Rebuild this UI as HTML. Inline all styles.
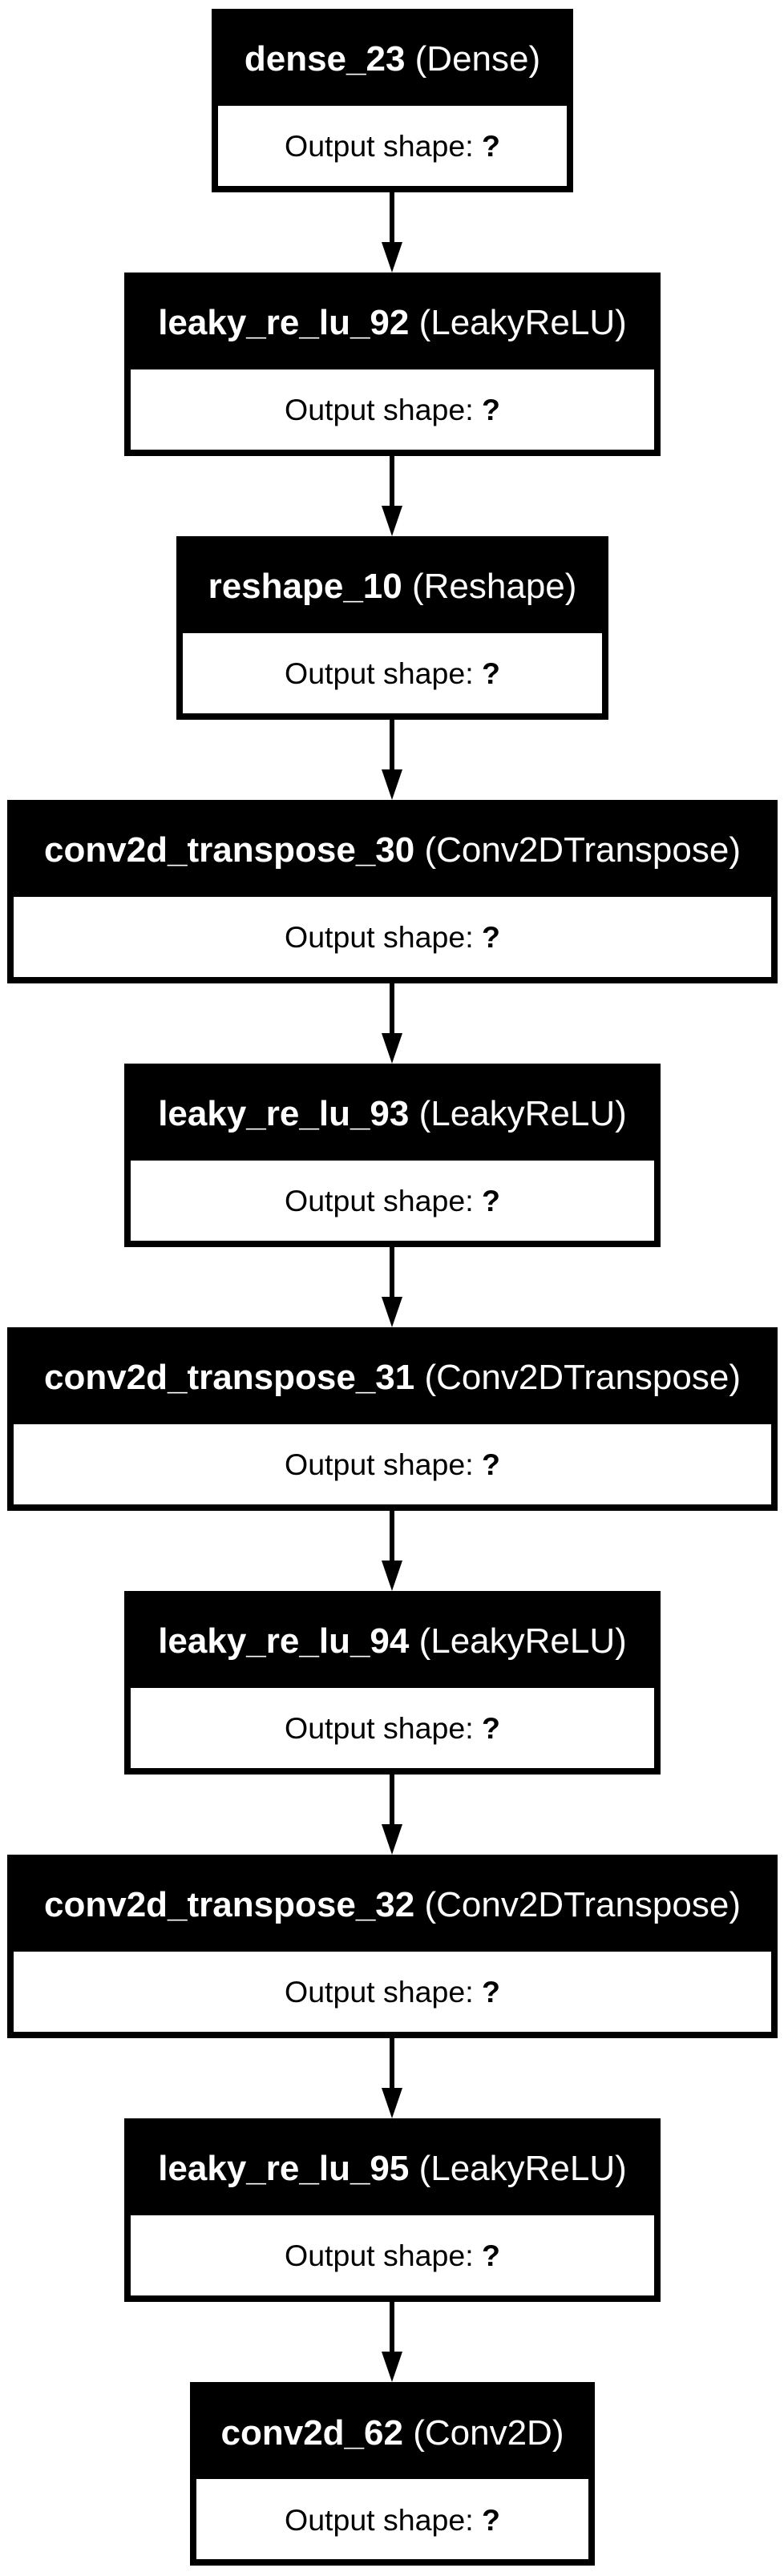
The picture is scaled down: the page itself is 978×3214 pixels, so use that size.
<!DOCTYPE html>
<html><head><meta charset="utf-8"><style>
html,body{margin:0;padding:0;background:#fff;}
svg{display:block;}
text{font-family:"Liberation Sans",Arial,sans-serif;}
</style></head><body>
<svg width="978" height="3214" viewBox="0 0 978 3214" xmlns="http://www.w3.org/2000/svg">
<rect width="978" height="3214" fill="#fff"/>
<g id="boxes"></g>
<!-- boxes -->
<g>
<!-- 1 -->
<rect x="264" y="11" width="451" height="229" fill="#000"/><rect x="272" y="132" width="435" height="100" fill="#fff"/>
<text x="489.5" y="88" text-anchor="middle" font-size="44" fill="#fff"><tspan font-weight="bold">dense_23</tspan> (Dense)</text>
<text x="489.5" y="195" text-anchor="middle" font-size="37.5" fill="#000">Output shape: <tspan font-weight="bold">?</tspan></text>
<!-- 2 -->
<rect x="155" y="340" width="669" height="229" fill="#000"/><rect x="163" y="461" width="653" height="100" fill="#fff"/>
<text x="489.5" y="417" text-anchor="middle" font-size="44" fill="#fff"><tspan font-weight="bold">leaky_re_lu_92</tspan> (LeakyReLU)</text>
<text x="489.5" y="524" text-anchor="middle" font-size="37.5" fill="#000">Output shape: <tspan font-weight="bold">?</tspan></text>
<!-- 3 -->
<rect x="220" y="669" width="539" height="229" fill="#000"/><rect x="228" y="790" width="523" height="100" fill="#fff"/>
<text x="489.5" y="746" text-anchor="middle" font-size="44" fill="#fff"><tspan font-weight="bold">reshape_10</tspan> (Reshape)</text>
<text x="489.5" y="853" text-anchor="middle" font-size="37.5" fill="#000">Output shape: <tspan font-weight="bold">?</tspan></text>
<!-- 4 -->
<rect x="9" y="998" width="961" height="229" fill="#000"/><rect x="17" y="1119" width="945" height="100" fill="#fff"/>
<text x="489.5" y="1075" text-anchor="middle" font-size="44" fill="#fff"><tspan font-weight="bold">conv2d_transpose_30</tspan> (Conv2DTranspose)</text>
<text x="489.5" y="1182" text-anchor="middle" font-size="37.5" fill="#000">Output shape: <tspan font-weight="bold">?</tspan></text>
<!-- 5 -->
<rect x="155" y="1327" width="669" height="229" fill="#000"/><rect x="163" y="1448" width="653" height="100" fill="#fff"/>
<text x="489.5" y="1404" text-anchor="middle" font-size="44" fill="#fff"><tspan font-weight="bold">leaky_re_lu_93</tspan> (LeakyReLU)</text>
<text x="489.5" y="1511" text-anchor="middle" font-size="37.5" fill="#000">Output shape: <tspan font-weight="bold">?</tspan></text>
<!-- 6 -->
<rect x="9" y="1656" width="961" height="229" fill="#000"/><rect x="17" y="1777" width="945" height="100" fill="#fff"/>
<text x="489.5" y="1733" text-anchor="middle" font-size="44" fill="#fff"><tspan font-weight="bold">conv2d_transpose_31</tspan> (Conv2DTranspose)</text>
<text x="489.5" y="1840" text-anchor="middle" font-size="37.5" fill="#000">Output shape: <tspan font-weight="bold">?</tspan></text>
<!-- 7 -->
<rect x="155" y="1985" width="669" height="229" fill="#000"/><rect x="163" y="2106" width="653" height="100" fill="#fff"/>
<text x="489.5" y="2062" text-anchor="middle" font-size="44" fill="#fff"><tspan font-weight="bold">leaky_re_lu_94</tspan> (LeakyReLU)</text>
<text x="489.5" y="2169" text-anchor="middle" font-size="37.5" fill="#000">Output shape: <tspan font-weight="bold">?</tspan></text>
<!-- 8 -->
<rect x="9" y="2314" width="961" height="229" fill="#000"/><rect x="17" y="2435" width="945" height="100" fill="#fff"/>
<text x="489.5" y="2391" text-anchor="middle" font-size="44" fill="#fff"><tspan font-weight="bold">conv2d_transpose_32</tspan> (Conv2DTranspose)</text>
<text x="489.5" y="2498" text-anchor="middle" font-size="37.5" fill="#000">Output shape: <tspan font-weight="bold">?</tspan></text>
<!-- 9 -->
<rect x="155" y="2643" width="669" height="229" fill="#000"/><rect x="163" y="2764" width="653" height="100" fill="#fff"/>
<text x="489.5" y="2720" text-anchor="middle" font-size="44" fill="#fff"><tspan font-weight="bold">leaky_re_lu_95</tspan> (LeakyReLU)</text>
<text x="489.5" y="2827" text-anchor="middle" font-size="37.5" fill="#000">Output shape: <tspan font-weight="bold">?</tspan></text>
<!-- 10 -->
<rect x="237" y="2972" width="505" height="229" fill="#000"/><rect x="245" y="3093" width="489" height="100" fill="#fff"/>
<text x="489.5" y="3050" text-anchor="middle" font-size="44" fill="#fff"><tspan font-weight="bold">conv2d_62</tspan> (Conv2D)</text>
<text x="489.5" y="3157" text-anchor="middle" font-size="37.5" fill="#000">Output shape: <tspan font-weight="bold">?</tspan></text>
</g>
<!-- arrows -->
<g fill="#000">
<rect x="486" y="240" width="6" height="64"/><polygon points="476,302 502,302 489,340"/>
<rect x="486" y="569" width="6" height="64"/><polygon points="476,631 502,631 489,669"/>
<rect x="486" y="898" width="6" height="64"/><polygon points="476,960 502,960 489,998"/>
<rect x="486" y="1227" width="6" height="64"/><polygon points="476,1289 502,1289 489,1327"/>
<rect x="486" y="1556" width="6" height="64"/><polygon points="476,1618 502,1618 489,1656"/>
<rect x="486" y="1885" width="6" height="64"/><polygon points="476,1947 502,1947 489,1985"/>
<rect x="486" y="2214" width="6" height="64"/><polygon points="476,2276 502,2276 489,2314"/>
<rect x="486" y="2543" width="6" height="64"/><polygon points="476,2605 502,2605 489,2643"/>
<rect x="486" y="2872" width="6" height="64"/><polygon points="476,2934 502,2934 489,2972"/>
</g>
</svg>
</body></html>
